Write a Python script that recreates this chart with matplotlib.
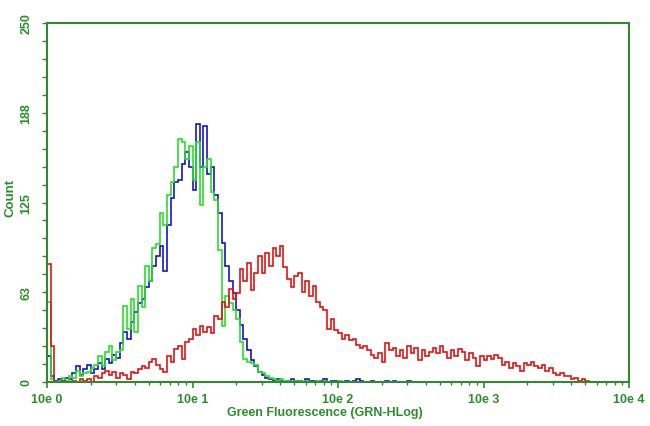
import numpy as np
import matplotlib
matplotlib.use("Agg")
import matplotlib.pyplot as plt
from matplotlib.ticker import FixedLocator, LogLocator, NullFormatter

# channel width in decades (log axis 10e0 .. 10e4)
decades_per_channel = 0.025

blue = [18,4,1,2,1,3,2,6,11,5, 9,12,6,9,13,9,16,13,19,17,
        27,35,30,42,49,55,58,66,70,81, 88,95,77,109,128,139,141,152,160,150,
        134,180,150,178,145,150,130,118,97,81, 70,62,50,40,30,22,15,11,7,5,
        3,2, 1,2,1,0,1,2,1,1,0,2, 1,1,0,1,2,0,1,1,0,0,
        1,0,1,2,1,0,0,1,0,0, 0,1,0,1,0,0,0,1,0]

green = [56,2,0,1,3,1,4,3,8,4, 6,7,10,12,18,11,21,25,15,21,
         22,53,37,58,35,67,52,81,70,93, 96,118,109,130,139,150,169,167,155,164,
         141,167,123,150,155,132,127,92,39,60, 55,50,44,28,16,14,13,12,7,6,
         4,3, 2,1,2,1,1,0,1,1,0,1, 0,0,1,0,1,0,0,0,1,0]

red = [82,25,0,0,1,0,0,1,0,2, 1,2,0,4,3,6,8,5,7,3,
       6,5,2,7,6,9,11,10,14,16, 12,9,7,18,14,23,25,16,28,30,
       37,33,39,35,38,34,46,44,56,52, 65,58,62,79,70,83,64,76,88,76,
       90,81,93,88,95,80,72,66,74,76, 63,70,60,67,56,52,50,37,44,36,
       34,30,33,29,30,26,24,25,22,19, 17,20,14,27,22,24,18,22,17,25,
       20,24,15,22,18,21,24,20,25,21, 17,22,18,23,21,15,20,17,11,18,
       15,18,16,19,17,12,14,10,13,11, 8,13,12,14,11,10,12,8,10,6,
       5,6,4,4,2,3,1,2,1,0]

xtick_values = [1, 10, 100, 1000, 10000]
xtick_labels = ["10e 0", "10e 1", "10e 2", "10e 3", "10e 4"]
ytick_values = [0, 62.5, 125, 187.5, 250]
ytick_labels = ["0", "63", "125", "188", "250"]

AX_GREEN = "#2f8a2f"
TXT_GREEN = "#2a8f2a"
font = ["Liberation Sans", "DejaVu Sans"]

fig = plt.figure(figsize=(6.5, 4.27), dpi=100)
ax = fig.add_axes([47/650, 44/427, 582/650, 359/427])

def edges(n):
    return 10 ** (np.arange(n + 1) * decades_per_channel)

ax.stairs(blue, edges(len(blue)), color="#1414c8", lw=1.2, baseline=None)
ax.stairs(green, edges(len(green)), color="#28e028", lw=1.2, baseline=None)
ax.stairs(red, edges(len(red)), color="#e01414", lw=1.2, baseline=None)

ax.set_xscale("log")
ax.set_xlim(1, 10000)
ax.set_ylim(0, 250)

ax.xaxis.set_major_locator(FixedLocator(xtick_values))
ax.set_xticklabels(xtick_labels)
ax.xaxis.set_minor_locator(LogLocator(base=10, subs=np.arange(2, 10)))
ax.xaxis.set_minor_formatter(NullFormatter())

ax.yaxis.set_major_locator(FixedLocator(ytick_values))
ax.set_yticklabels(ytick_labels)
ax.yaxis.set_minor_locator(FixedLocator(np.arange(0, 251, 12.5)))

for s in ax.spines.values():
    s.set_color(AX_GREEN)
    s.set_linewidth(1.5)

ax.tick_params(axis="x", which="major", direction="out", length=4.5, width=1.2,
               color=AX_GREEN, labelcolor=TXT_GREEN, pad=3.5)
ax.tick_params(axis="x", which="minor", direction="out", length=2.5, width=1.0,
               color=AX_GREEN)
ax.tick_params(axis="y", which="both", direction="out", length=3.5, width=1.0,
               color=AX_GREEN, labelcolor=TXT_GREEN, pad=7)

for lab in ax.get_xticklabels():
    lab.set_fontfamily(font)
    lab.set_fontweight("bold")
    lab.set_fontsize(9)
for lab in ax.get_yticklabels():
    lab.set_fontfamily(font)
    lab.set_fontweight("bold")
    lab.set_fontsize(9)
    lab.set_rotation(90)
    lab.set_va("center")

fig.text(325/650, 1 - 413/427, "Green Fluorescence (GRN-HLog)", ha="center", va="center",
         color=TXT_GREEN, fontsize=9, fontweight="bold", family=font)
fig.text(11/650, 1 - 198/427, "Count", ha="center", va="center", rotation=90,
         color=TXT_GREEN, fontsize=9.5, fontweight="bold", family=font)

fig.savefig("out.png", dpi=100, facecolor="white")
